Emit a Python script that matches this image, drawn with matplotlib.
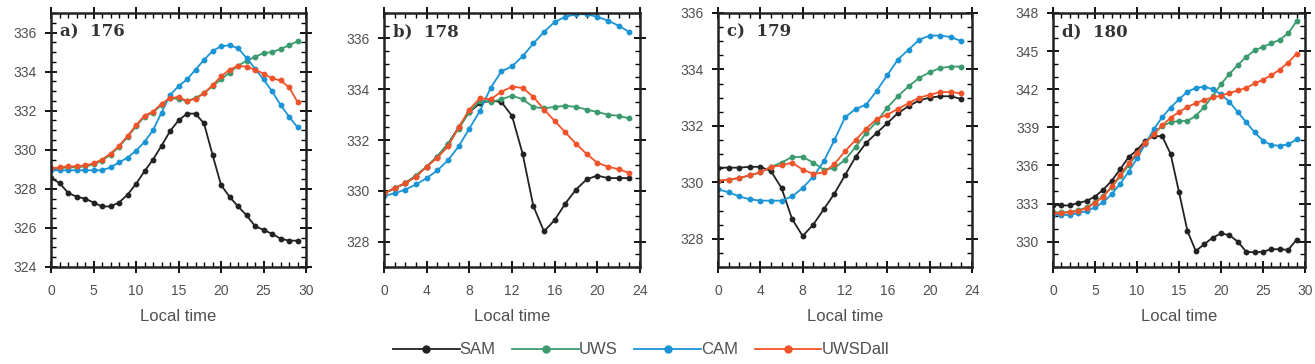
import numpy as np
import matplotlib
matplotlib.use("Agg")
import matplotlib.pyplot as plt
from matplotlib.ticker import MultipleLocator
from matplotlib.lines import Line2D

plt.rcParams["font.family"] = ["Liberation Sans", "DejaVu Sans"]

# ---- data ----
series_names = ["SAM", "UWS", "CAM", "UWSDall"]
colors = ["#222222", "#3b9b6e", "#1a94d4", "#f0532a"]

panel_titles = ["a)  176", "b)  178", "c)  179", "d)  180"]

# panel a (176), hours 0-29
a_sam = [328.55, 328.3, 327.8, 327.6, 327.5, 327.3, 327.1, 327.1, 327.3, 327.7,
         328.25, 328.9, 329.5, 330.2, 330.95, 331.5, 331.85, 331.85, 331.35, 329.75,
         328.2, 327.6, 327.1, 326.65, 326.1, 325.9, 325.7, 325.45, 325.35, 325.35]
a_uws = [329.0, 329.05, 329.1, 329.1, 329.15, 329.25, 329.45, 329.75, 330.15, 330.65,
         331.2, 331.7, 331.9, 332.3, 332.65, 332.6, 332.5, 332.65, 332.9, 333.25,
         333.6, 333.95, 334.3, 334.55, 334.75, 334.95, 335.0, 335.15, 335.35, 335.55]
a_cam = [328.95, 328.95, 328.95, 328.95, 328.95, 328.95, 328.95, 329.1, 329.35, 329.6,
         329.95, 330.4, 331.0, 331.9, 332.8, 333.25, 333.6, 334.1, 334.6, 335.05,
         335.3, 335.35, 335.2, 334.7, 334.15, 333.6, 333.0, 332.3, 331.7, 331.15]
a_uwsd = [329.05, 329.1, 329.15, 329.15, 329.2, 329.3, 329.5, 329.8, 330.2, 330.7,
          331.25, 331.75, 331.95, 332.35, 332.65, 332.7, 332.5, 332.6, 332.9, 333.3,
          333.75, 334.1, 334.3, 334.25, 334.1, 333.9, 333.65, 333.55, 333.2, 332.45]

# panel b (178), hours 0-23
b_sam = [329.9, 330.1, 330.3, 330.6, 330.95, 331.35, 331.85, 332.5, 333.1, 333.45,
         333.55, 333.5, 332.95, 331.45, 329.4, 328.4, 328.85, 329.5, 330.05, 330.45,
         330.6, 330.5, 330.5, 330.5]
b_uws = [329.9, 330.1, 330.3, 330.6, 330.95, 331.35, 331.85, 332.45, 333.1, 333.55,
         333.5, 333.6, 333.75, 333.6, 333.3, 333.25, 333.3, 333.35, 333.3, 333.2,
         333.1, 333.0, 332.95, 332.85]
b_cam = [329.8, 329.9, 330.05, 330.25, 330.5, 330.8, 331.2, 331.75, 332.45, 333.15,
         334.05, 334.7, 334.9, 335.3, 335.8, 336.25, 336.65, 336.85, 336.95, 336.95,
         336.85, 336.7, 336.5, 336.25]
b_uwsd = [329.9, 330.1, 330.3, 330.55, 330.95, 331.3, 331.75, 332.5, 333.2, 333.65,
          333.6, 333.9, 334.1, 334.05, 333.7, 333.2, 332.75, 332.3, 331.85, 331.45,
          331.1, 330.95, 330.85, 330.7]

# panel c (179), hours 0-23
c_sam = [330.52, 330.52, 330.52, 330.55, 330.55, 330.4, 329.8, 328.7, 328.1, 328.5,
         329.05, 329.6, 330.25, 330.9, 331.4, 331.75, 332.1, 332.45, 332.7, 332.9,
         333.0, 333.05, 333.05, 332.95]
c_uws = [330.05, 330.1, 330.15, 330.25, 330.35, 330.55, 330.7, 330.9, 330.9, 330.7,
         330.45, 330.5, 330.8, 331.25, 331.75, 332.15, 332.65, 333.05, 333.4, 333.7,
         333.9, 334.05, 334.1, 334.1]
c_cam = [329.75, 329.65, 329.5, 329.4, 329.35, 329.35, 329.35, 329.5, 329.8, 330.2,
         330.75, 331.5, 332.3, 332.6, 332.75, 333.25, 333.8, 334.35, 334.7, 335.05,
         335.2, 335.2, 335.15, 335.0]
c_uwsd = [330.05, 330.1, 330.15, 330.25, 330.35, 330.55, 330.6, 330.7, 330.45, 330.3,
          330.35, 330.65, 331.1, 331.5, 331.9, 332.25, 332.4, 332.6, 332.8, 333.0,
          333.1, 333.2, 333.2, 333.15]

# panel d (180), hours 0-29
d_sam = [332.9, 332.85, 332.85, 333.05, 333.2, 333.55, 334.1, 334.8, 335.7, 336.65,
         337.2, 337.95, 338.3, 338.3, 336.9, 333.9, 330.85, 329.25, 329.8, 330.3,
         330.65, 330.5, 330.0, 329.2, 329.15, 329.2, 329.4, 329.4, 329.35, 330.15]
d_uws = [332.3, 332.3, 332.35, 332.45, 332.7, 333.1, 333.6, 334.3, 335.15, 336.0,
         336.9, 337.75, 338.6, 339.1, 339.4, 339.5, 339.5, 339.9, 340.6, 341.45,
         342.4, 343.2, 343.9, 344.55, 345.05, 345.35, 345.6, 345.9, 346.4, 347.35]
d_cam = [332.1, 332.1, 332.1, 332.25, 332.4, 332.7, 333.1, 333.75, 334.55, 335.5,
         336.55, 337.7, 338.85, 339.8, 340.55, 341.2, 341.8, 342.1, 342.2, 342.0,
         341.6, 341.0, 340.2, 339.4, 338.6, 337.95, 337.6, 337.55, 337.65, 338.05]
d_uwsd = [332.25, 332.25, 332.3, 332.4, 332.65, 333.05, 333.55, 334.35, 335.25, 336.15,
          337.0, 337.8, 338.45, 339.15, 339.75, 340.2, 340.6, 340.9, 341.15, 341.35,
          341.5, 341.7, 341.9, 342.1, 342.45, 342.75, 343.1, 343.55, 344.1, 344.8]

panel_data = [
    [a_sam, a_uws, a_cam, a_uwsd],
    [b_sam, b_uws, b_cam, b_uwsd],
    [c_sam, c_uws, c_cam, c_uwsd],
    [d_sam, d_uws, d_cam, d_uwsd],
]

# axis settings per panel: xlim, xmajor, ylim, ymajor, yminor
panel_axes = [
    ((0, 30), 5, (324, 337), 2, 0.5),
    ((0, 24), 4, (327, 337), 2, 0.5),
    ((0, 24), 4, (327, 336), 2, 0.5),
    ((0, 30), 5, (328, 348), 3, 1.0),
]

W, H = 1315, 364
lefts = [51, 384, 718, 1053]
widths = [255, 256, 254, 252]
top, bottom = 13, 267

fig = plt.figure(figsize=(W / 100, H / 100), dpi=100)

label_col = "#505050"

for i in range(4):
    ax = fig.add_axes([lefts[i] / W, 1 - bottom / H, widths[i] / W, (bottom - top) / H])
    xlim, xmaj, ylim, ymaj, ymin = panel_axes[i]
    for vals, col in zip(panel_data[i], colors):
        hrs = np.arange(len(vals))
        ax.plot(hrs, vals, color=col, lw=1.3, marker="o", ms=3.2, mec=col, mfc=col)
    ax.set_xlim(*xlim)
    ax.set_ylim(*ylim)
    ax.xaxis.set_major_locator(MultipleLocator(xmaj))
    ax.xaxis.set_minor_locator(MultipleLocator(1))
    ax.yaxis.set_major_locator(MultipleLocator(ymaj))
    ax.yaxis.set_minor_locator(MultipleLocator(ymin))
    ax.tick_params(which="major", direction="inout", length=8, width=1.3,
                   top=True, right=True, labelsize=10, labelcolor=label_col)
    ax.tick_params(axis="x", which="major", pad=8)
    ax.tick_params(axis="y", which="major", pad=6)
    ax.tick_params(which="minor", direction="in", length=3.5, width=1.0,
                   top=True, right=True)
    for sp in ax.spines.values():
        sp.set_linewidth(1.8)
        sp.set_color("#222222")
    ax.set_xlabel("Local time", fontsize=12, color=label_col, labelpad=8)
    ax.text(0.035, 0.925, panel_titles[i], transform=ax.transAxes, fontsize=12,
            fontweight="semibold", family=["DejaVu Serif"], color="#333333",
            ha="left", va="center")

handles = [Line2D([0, 0.5, 1], [0, 0, 0], color=c, lw=1.3, marker="o", ms=5,
                  markevery=[1]) for c in colors]
fig.legend(handles, series_names, loc="center", bbox_to_anchor=(641 / W, 1 - 350 / H),
           ncol=4, frameon=False, fontsize=12, handlelength=4.0, handletextpad=0.0,
           columnspacing=1.0, labelcolor=label_col)

fig.savefig("out.png", dpi=100)
